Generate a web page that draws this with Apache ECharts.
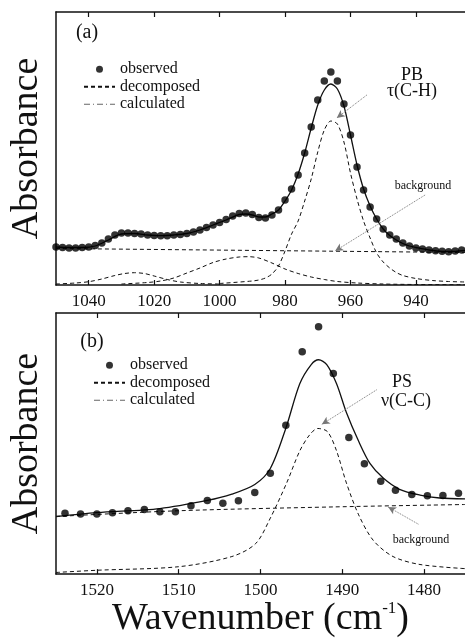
<!DOCTYPE html>
<html>
<head>
<meta charset="utf-8">
<script src="https://cdn.jsdelivr.net/npm/echarts@6/dist/echarts.min.js"></script>
<style>
  html, body { margin: 0; padding: 0; background: #fff; }
  #chart { width: 465px; height: 639px; }
</style>
</head>
<body>
<div id="chart"></div>
<script>
// absorbance values are in units of 1e-3 (no scale is shown on the figure)

// (a) PB, tau(C-H) region
const wnObsA = [1050, 1048, 1046, 1044, 1042, 1040, 1038, 1036, 1034, 1032, 1030, 1028, 1026, 1024, 1022, 1020,
  1018, 1016, 1014, 1012, 1010, 1008, 1006, 1004, 1002, 1000, 998, 996, 994, 992, 990, 988, 986, 984, 982, 980,
  978, 976, 974, 972, 970, 968, 966, 964, 962, 960, 958, 956, 954, 952, 950, 948, 946, 944, 942, 940, 938, 936,
  934, 932, 930, 928, 926]
const obsA = [38, 37.5, 37, 37, 37.5, 38, 39.5, 42, 46, 50, 52, 52, 51.5, 51, 50, 49.5,
  49.3, 49.3, 50, 50.5, 51.5, 53, 55, 57.5, 60, 62.5, 65.5, 69, 71.5, 72, 70.5, 67.5, 67, 70, 75, 85,
  96, 110, 132, 158, 185, 204, 213, 204, 181, 150, 118, 95, 78, 66, 56, 50, 46, 42, 39, 37, 36, 35,
  34.3, 33.7, 33.3, 34, 35]

const wnCalcA = [1050, 1046, 1042, 1038, 1034, 1030, 1026, 1022, 1018, 1014, 1010, 1006, 1002, 998, 994, 992,
  990, 988, 986, 984, 982, 980, 978, 976, 974, 972, 970, 968, 966, 964, 962, 960, 958, 956, 954, 952, 950,
  948, 946, 944, 942, 940, 936, 932, 928, 925]
const calcA = [38, 37.5, 37.5, 39, 45, 51, 51.5, 50, 49.3, 50, 51.5, 55, 60, 65, 70.5, 71,
  70, 68, 68, 71, 75, 84, 95, 111, 132, 157, 180, 195, 201, 196, 179, 150, 120, 96, 79, 66, 56,
  49.5, 45, 41.5, 39, 37.5, 35, 33.7, 33.7, 34.5]

const wnBgA = [1050, 925]
const bgA = [36.5, 32.5]

const wnBand966 = [1000, 990, 988, 986, 984, 982, 980, 978, 976, 974, 972, 970, 968, 966, 964, 962, 960, 958,
  956, 954, 952, 950, 948, 946, 944, 940, 935, 930, 925]
const band966 = [1.5, 4, 5, 7, 11, 19, 34, 51, 64, 84, 106, 133, 155, 164, 161, 143, 112, 86,
  64, 47, 32, 23, 17, 12.5, 9.5, 6.5, 4.5, 3.5, 3]

const wnBand992 = [1030, 1022, 1018, 1014, 1010, 1006, 1002, 998, 994, 991, 988, 984, 980, 976, 972, 968, 964,
  958, 950, 940, 925]
const band992 = [1, 2.5, 4, 7, 12, 17, 22.5, 26, 28, 28.3, 27, 22, 16, 11.5, 8, 5.5, 3.5, 2, 1, 0.5, 0.3]

const wnBand1026 = [1050, 1044, 1040, 1036, 1032, 1029, 1026, 1023, 1020, 1016, 1012, 1006, 1000]
const band1026 = [1, 2, 3.3, 6, 9.5, 11.5, 12.3, 11.5, 9, 5.5, 3, 1.5, 1]

const ticksA = [1040, 1020, 1000, 980, 960, 940]

// (b) PS, nu(C-C) region
const wnObsB = [1523.9, 1522, 1520, 1518.1, 1516.2, 1514.2, 1512.3, 1510.4, 1508.5, 1506.5, 1504.6, 1502.7,
  1500.7, 1498.8, 1496.9, 1494.9, 1492.9, 1491.1, 1489.2, 1487.3, 1485.3, 1483.5, 1481.5, 1479.6, 1477.7, 1475.8]
const obsB = [63.3, 62.7, 62.7, 64, 66, 67.3, 65, 65, 71.3, 76.7, 73.7, 76.3,
  85, 105, 155, 231.7, 257.7, 209, 142.3, 115, 96.7, 87.3, 83, 81.7, 82, 84.3]

const wnCalcB = [1525, 1520, 1512.3, 1506.5, 1503.5, 1500.7, 1498.8, 1496.9, 1495.2, 1493.8, 1492.9, 1491.9,
  1490.7, 1489.5, 1488, 1486.6, 1485, 1483, 1480.5, 1478.1, 1475]
const calcB = [60, 64, 68.3, 76.7, 83.3, 93.3, 110, 152, 198.3, 218.3, 223.3, 218.3,
  198.3, 168.3, 138.3, 115, 100, 88.3, 82.3, 79.3, 78.3]

const wnBgB = [1525, 1510, 1491, 1475]
const bgB = [60, 66, 70, 72.5]

const wnBandB = [1525, 1520, 1510, 1503.5, 1500.6, 1498.8, 1496.8, 1495.2, 1494, 1493, 1491.8, 1490.7, 1489.5,
  1488, 1486.2, 1483.8, 1480.5, 1475]
const bandB = [1.7, 4, 7.7, 18.3, 31.7, 58.3, 95, 128.3, 145, 151.7, 148.3, 128.3, 95,
  61.7, 35, 18.3, 10, 5.7]

const ticksB = [1520, 1510, 1500, 1490, 1480]

// annotation arrows, [wavenumber, absorbance] from -> to
const arrowsA = [[[955, 190], [964.2, 167]], [[937.2, 90], [964.7, 34]]]
const arrowsB = [[[1485.8, 192], [1492.5, 156]], [[1480.7, 52], [1484.4, 70]]]

const serif = 'Liberation Serif'
const ink = '#111'

const pairs = (xs, ys) => xs.map((x, i) => [x, ys[i]])

function xAxisPair(grid, min, max, ticks, name) {
  const tick = { inside: true, length: 5, customValues: ticks, lineStyle: { color: ink, width: 1.2 } }
  const bottom = {
    type: 'value', gridIndex: grid, position: 'bottom', inverse: true, min: min, max: max,
    splitLine: { show: false },
    axisLine: { onZero: false, lineStyle: { color: ink, width: 1.5 } },
    axisTick: tick,
    axisLabel: {
      customValues: ticks, margin: 8, fontFamily: serif, fontSize: 17, color: ink,
      formatter: v => String(v)
    }
  }
  if (name) {
    bottom.name = name
    bottom.nameLocation = 'middle'
    bottom.nameGap = 15
    bottom.nameTextStyle = {
      fontFamily: serif, fontSize: 38, color: ink,
      rich: { sup: { fontFamily: serif, fontSize: 17, color: ink, verticalAlign: 'top', padding: [0, 0, 18, 0] } }
    }
  }
  const top = {
    type: 'value', gridIndex: grid, position: 'top', inverse: true, min: min, max: max,
    splitLine: { show: false },
    axisLine: { onZero: false, lineStyle: { color: ink, width: 1.5 } },
    axisTick: tick,
    axisLabel: { show: false }
  }
  return [bottom, top]
}

function yAxisFor(grid, max) {
  return {
    type: 'value', gridIndex: grid, min: 0, max: max,
    splitLine: { show: false },
    axisLine: { show: true, onZero: false, lineStyle: { color: ink, width: 1.5 } },
    axisTick: { show: false },
    axisLabel: { show: false },
    name: 'Absorbance', nameLocation: 'middle', nameRotate: 90, nameGap: 10,
    nameTextStyle: { fontFamily: serif, fontSize: 38, color: ink }
  }
}

function dashed(xi, yi, xs, ys) {
  return {
    name: 'decomposed', type: 'line', xAxisIndex: xi, yAxisIndex: yi,
    data: pairs(xs, ys), symbol: 'none', smooth: 0.3,
    itemStyle: { color: ink },
    lineStyle: { color: ink, width: 1, type: [4, 3] }, z: 2
  }
}

function arrowLines(list) {
  return {
    silent: true, symbol: ['none', 'arrow'], symbolSize: [6, 8],
    label: { show: false },
    lineStyle: { color: '#777', width: 1, type: 'dotted' },
    data: list.map(a => [{ coord: a[0] }, { coord: a[1] }])
  }
}

function legendFor(left, top) {
  return {
    left: left, top: top, orient: 'vertical', padding: 0, itemGap: 1, itemWidth: 31, itemHeight: 7,
    selectedMode: false,
    textStyle: { fontFamily: serif, fontSize: 16, color: ink, lineHeight: 16.5 },
    data: [
      { name: 'observed', itemStyle: { color: '#000' } },
      { name: 'decomposed', itemStyle: { opacity: 0 } },
      { name: 'calculated', itemStyle: { opacity: 0 }, lineStyle: { color: '#666', width: 1, type: [6, 3, 1, 3] } }
    ]
  }
}

const chart = echarts.init(document.getElementById('chart'))

const option = {
  animation: false,
  backgroundColor: '#fff',
  grid: [
    { left: 56, top: 12, width: 409, height: 273 },
    { left: 56, top: 313, width: 409, height: 272 }
  ],
  xAxis: [
    ...xAxisPair(0, 925, 1050, ticksA),
    ...xAxisPair(1, 1475, 1525, ticksB, 'Wavenumber (cm{sup|-1})')
  ],
  yAxis: [yAxisFor(0, 273), yAxisFor(1, 272)],
  legend: [legendFor(83, 61), legendFor(93, 357)],
  graphic: [
    { type: 'text', x: 87, y: 33, style: { text: '(a)', font: '20px ' + serif, fill: ink, align: 'center', verticalAlign: 'middle' } },
    { type: 'text', x: 412, y: 75, style: { text: 'PB', font: '18px ' + serif, fill: ink, align: 'center', verticalAlign: 'middle' } },
    { type: 'text', x: 412, y: 91, style: { text: 'τ(C-H)', font: '18px ' + serif, fill: ink, align: 'center', verticalAlign: 'middle' } },
    { type: 'text', x: 423, y: 186, style: { text: 'background', font: '12px ' + serif, fill: ink, align: 'center', verticalAlign: 'middle' } },
    { type: 'text', x: 92, y: 342, style: { text: '(b)', font: '20px ' + serif, fill: ink, align: 'center', verticalAlign: 'middle' } },
    { type: 'text', x: 402, y: 382, style: { text: 'PS', font: '18px ' + serif, fill: ink, align: 'center', verticalAlign: 'middle' } },
    { type: 'text', x: 406, y: 401, style: { text: 'ν(C-C)', font: '18px ' + serif, fill: ink, align: 'center', verticalAlign: 'middle' } },
    { type: 'text', x: 421, y: 540, style: { text: 'background', font: '12px ' + serif, fill: ink, align: 'center', verticalAlign: 'middle' } }
  ],
  series: [
    {
      name: 'observed', type: 'scatter', xAxisIndex: 0, yAxisIndex: 0,
      data: pairs(wnObsA, obsA), symbol: 'circle', symbolSize: 7.5,
      itemStyle: { color: '#000' }, z: 4
    },
    dashed(0, 0, wnBgA, bgA),
    dashed(0, 0, wnBand966, band966),
    dashed(0, 0, wnBand992, band992),
    dashed(0, 0, wnBand1026, band1026),
    {
      name: 'calculated', type: 'line', xAxisIndex: 0, yAxisIndex: 0,
      data: pairs(wnCalcA, calcA), symbol: 'none', smooth: 0.3,
      itemStyle: { color: ink },
      lineStyle: { color: ink, width: 1.3 }, z: 3,
      markLine: arrowLines(arrowsA)
    },
    {
      name: 'observed', type: 'scatter', xAxisIndex: 2, yAxisIndex: 1,
      data: pairs(wnObsB, obsB), symbol: 'circle', symbolSize: 7.5,
      itemStyle: { color: '#000' }, z: 4
    },
    dashed(2, 1, wnBgB, bgB),
    dashed(2, 1, wnBandB, bandB),
    {
      name: 'calculated', type: 'line', xAxisIndex: 2, yAxisIndex: 1,
      data: pairs(wnCalcB, calcB), symbol: 'none', smooth: 0.3,
      itemStyle: { color: ink },
      lineStyle: { color: ink, width: 1.3 }, z: 3,
      markLine: arrowLines(arrowsB)
    }
  ]
}

chart.setOption(option)
</script>
</body>
</html>
